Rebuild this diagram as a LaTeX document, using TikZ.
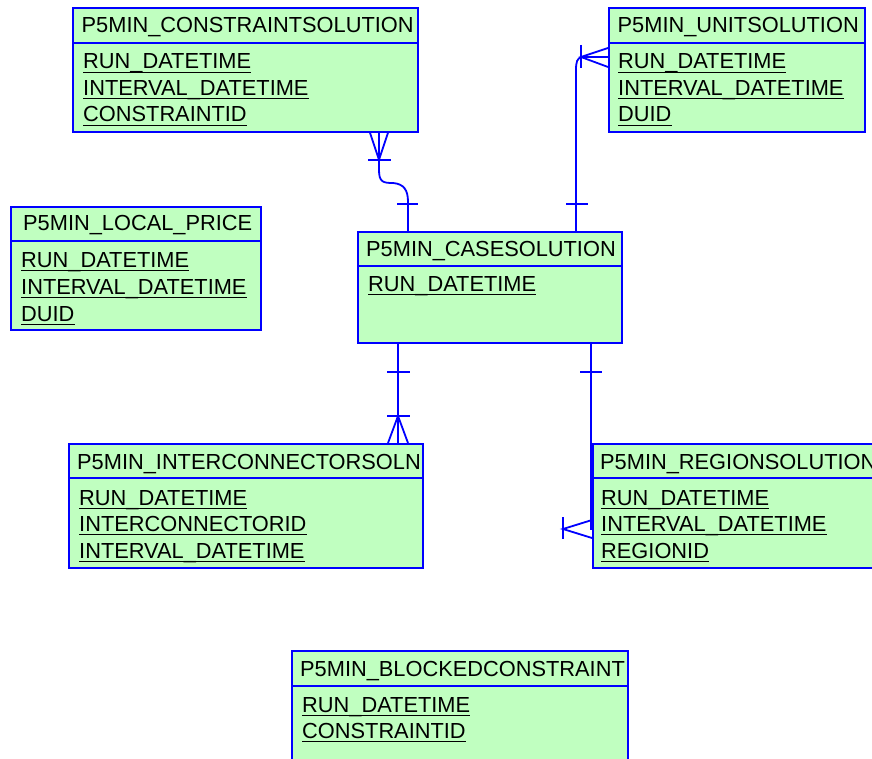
\documentclass[tikz,border=0pt]{standalone}
\usepackage{fontspec}
\setmainfont{Liberation Sans}
\usetikzlibrary{positioning}
\definecolor{entfill}{RGB}{192,255,192}
\definecolor{entblue}{RGB}{0,0,255}
\tikzset{
  entity/.style={draw=entblue, fill=entfill, line width=1.8pt, anchor=north west, inner sep=0pt},
  enttitle/.style={anchor=base west, inner sep=0pt, font=\fontsize{21.8}{26}\selectfont},
  entfield/.style={enttitle},
  keyline/.style={black, line width=1.3pt},
  rel/.style={draw=entblue, line width=1.8pt},
}
\begin{document}
\begin{tikzpicture}[x=1pt,y=-1pt]
	\useasboundingbox (0,0) rectangle (872,759);
	% entities
	\node[entity, minimum width=345, minimum height=124] (cs) at (72,7) {};
	\draw[rel] ([yshift=-36]cs.north west) -- ([yshift=-36]cs.north east);
	\node[enttitle] (cs-t) at ([shift={(9.5,26)}]cs.north west) {P5MIN\_CONSTRAINTSOLUTION};
	\foreach \f [count=\i] in {RUN\_DATETIME, INTERVAL\_DATETIME, CONSTRAINTID}{
		\node[entfield] (cs-\i) at ([shift={(11,35.5+26.5*\i)}]cs.north west) {\f};
		\draw[keyline] ([yshift=-3.2]cs-\i.base west) -- ([yshift=-3.2]cs-\i.base east);
	}
	\node[entity, minimum width=256, minimum height=124] (unit) at (608,7) {};
	\draw[rel] ([yshift=-36]unit.north west) -- ([yshift=-36]unit.north east);
	\node[enttitle] (unit-t) at ([shift={(9.5,26)}]unit.north west) {P5MIN\_UNITSOLUTION};
	\foreach \f [count=\i] in {RUN\_DATETIME, INTERVAL\_DATETIME, DUID}{
		\node[entfield] (unit-\i) at ([shift={(10,35.5+26.5*\i)}]unit.north west) {\f};
		\draw[keyline] ([yshift=-3.2]unit-\i.base west) -- ([yshift=-3.2]unit-\i.base east);
	}
	\node[entity, minimum width=250, minimum height=123] (lp) at (10,206) {};
	\draw[rel] ([yshift=-35]lp.north west) -- ([yshift=-35]lp.north east);
	\node[enttitle] (lp-t) at ([shift={(13,25)}]lp.north west) {P5MIN\_LOCAL\_PRICE};
	\foreach \f [count=\i] in {RUN\_DATETIME, INTERVAL\_DATETIME, DUID}{
		\node[entfield] (lp-\i) at ([shift={(11,34.5+27*\i)}]lp.north west) {\f};
		\draw[keyline] ([yshift=-3.2]lp-\i.base west) -- ([yshift=-3.2]lp-\i.base east);
	}
	\node[entity, minimum width=264, minimum height=111] (case) at (357,231) {};
	\draw[rel] ([yshift=-35]case.north west) -- ([yshift=-35]case.north east);
	\node[enttitle] (case-t) at ([shift={(9,25)}]case.north west) {P5MIN\_CASESOLUTION};
	\node[entfield] (case-1) at ([shift={(11,60)}]case.north west) {RUN\_DATETIME};
	\draw[keyline] ([yshift=-3.2]case-1.base west) -- ([yshift=-3.2]case-1.base east);
	\node[entity, minimum width=354, minimum height=124] (ic) at (68,443) {};
	\draw[rel] ([yshift=-35]ic.north west) -- ([yshift=-35]ic.north east);
	\node[enttitle] (ic-t) at ([shift={(9,26)}]ic.north west) {P5MIN\_INTERCONNECTORSOLN};
	\foreach \f [count=\i] in {RUN\_DATETIME, INTERCONNECTORID, INTERVAL\_DATETIME}{
		\node[entfield] (ic-\i) at ([shift={(11,35.5+26.5*\i)}]ic.north west) {\f};
		\draw[keyline] ([yshift=-3.2]ic-\i.base west) -- ([yshift=-3.2]ic-\i.base east);
	}
	\node[entity, minimum width=300, minimum height=124] (reg) at (592,443) {};
	\draw[rel] ([yshift=-35]reg.north west) -- ([yshift=-35]reg.north east);
	\node[enttitle] (reg-t) at ([shift={(8,26)}]reg.north west) {P5MIN\_REGIONSOLUTION};
	\foreach \f [count=\i] in {RUN\_DATETIME, INTERVAL\_DATETIME, REGIONID}{
		\node[entfield] (reg-\i) at ([shift={(9,35.5+26.5*\i)}]reg.north west) {\f};
		\draw[keyline] ([yshift=-3.2]reg-\i.base west) -- ([yshift=-3.2]reg-\i.base east);
	}
	\node[entity, minimum width=336, minimum height=130] (bc) at (291,650) {};
	\draw[rel] ([yshift=-36]bc.north west) -- ([yshift=-36]bc.north east);
	\node[enttitle] (bc-t) at ([shift={(9,26)}]bc.north west) {P5MIN\_BLOCKEDCONSTRAINT};
	\foreach \f [count=\i] in {RUN\_DATETIME, CONSTRAINTID}{
		\node[entfield] (bc-\i) at ([shift={(11,35.5+26.5*\i)}]bc.north west) {\f};
		\draw[keyline] ([yshift=-3.2]bc-\i.base west) -- ([yshift=-3.2]bc-\i.base east);
	}
	% relationships
	\draw[rel] ([xshift=307]cs.south west) -- (379,170) .. controls (379,182) and (383,183) .. (393,183)
		.. controls (404,184) and (408,190) .. (408,202) -- ([xshift=51]case.north west);
	\draw[rel] ([xshift=298]cs.south west) -- ++(9,27) -- ++(9,-27);
	\draw[rel] ([shift={(296,27)}]cs.south west) -- ++(23,0);
	\draw[rel] ([shift={(40,-27)}]case.north west) -- ++(21,0);
	\draw[rel] ([yshift=-50]unit.north west) -- (582,57) .. controls (577,58) and (576,62) .. (576,70)
		-- ([xshift=219]case.north west);
	\draw[rel] ([yshift=-41]unit.north west) -- ++(-27,9) -- ++(27,10);
	\draw[rel] ([shift={(-27,-2)}]unit.south west |- unit.north west) ++(0,40) -- ++(0,23);
	\draw[rel] ([shift={(209,-27)}]case.north west) -- ++(22,0);
	\draw[rel] ([xshift=41]case.south west) -- ([xshift=330]ic.north west);
	\draw[rel] ([shift={(30,28)}]case.south west) -- ++(23,0);
	\draw[rel] ([shift={(319,-27)}]ic.north west) -- ++(23,0);
	\draw[rel] ([xshift=320]ic.north west) -- ++(10,-27) -- ++(10,27);
	\draw[rel] ([xshift=234]case.south west) |- ([yshift=-86]reg.north west);
	\draw[rel] ([shift={(223,28)}]case.south west) -- ++(22,0);
	\draw[rel] ([yshift=-77]reg.north west) -- ++(-29,9) -- ++(29,9);
	\draw[rel] ([shift={(-29,74)}]reg.north west) -- ++(0,22);
\end{tikzpicture}
\end{document}
